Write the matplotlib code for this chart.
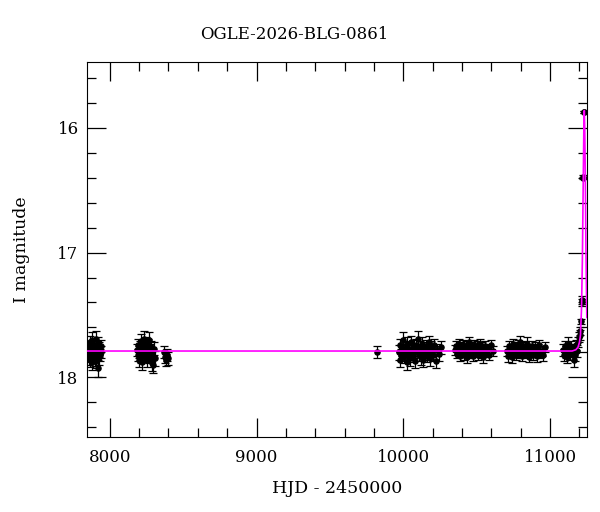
# OGLE light curve with point-lens model
import numpy as np
import matplotlib
matplotlib.use("Agg")
import matplotlib.pyplot as plt
from matplotlib.ticker import MultipleLocator

plt.rcParams['font.family'] = ['DejaVu Serif']

# season 1
t1 = [7852, 7855, 7858, 7861, 7864, 7867, 7870, 7873, 7876, 7879, 7882, 7885, 7888, 7891, 7894,
      7897, 7900, 7903, 7906, 7909, 7912, 7915, 7918, 7921, 7924, 7927, 7930, 7933, 7937, 7941]
m1 = [17.80, 17.76, 17.84, 17.79, 17.72, 17.86, 17.81, 17.77, 17.70, 17.83, 17.88, 17.75, 17.79, 17.82, 17.74,
      17.85, 17.78, 17.69, 17.81, 17.87, 17.76, 17.80, 17.93, 17.73, 17.84, 17.79, 17.77, 17.82, 17.75, 17.80]
e1 = [0.05, 0.05, 0.06, 0.05, 0.05, 0.06, 0.05, 0.05, 0.06, 0.05, 0.06, 0.05, 0.05, 0.05, 0.05,
      0.06, 0.05, 0.06, 0.05, 0.06, 0.05, 0.05, 0.07, 0.05, 0.06, 0.05, 0.05, 0.05, 0.05, 0.05]

# season 2
t2 = [8186, 8190, 8194, 8198, 8202, 8206, 8210, 8214, 8218, 8222, 8226, 8230, 8234, 8238, 8242,
      8246, 8250, 8254, 8258, 8262, 8266, 8270, 8274, 8278, 8282, 8286, 8290, 8296, 8302, 8310]
m2 = [17.78, 17.82, 17.74, 17.86, 17.80, 17.76, 17.71, 17.84, 17.79, 17.88, 17.75, 17.81, 17.69, 17.77, 17.83,
      17.73, 17.80, 17.86, 17.74, 17.79, 17.70, 17.84, 17.78, 17.82, 17.76, 17.89, 17.81, 17.90, 17.77, 17.85]
e2 = [0.05, 0.05, 0.05, 0.06, 0.05, 0.05, 0.06, 0.05, 0.05, 0.06, 0.05, 0.05, 0.06, 0.05, 0.05,
      0.05, 0.05, 0.06, 0.05, 0.05, 0.06, 0.05, 0.05, 0.05, 0.05, 0.06, 0.05, 0.07, 0.05, 0.06]

# season 3
t3 = [8368, 8375, 8382, 8390, 8398]
m3 = [17.80, 17.84, 17.86, 17.82, 17.85]
e3 = [0.05, 0.05, 0.05, 0.05, 0.05]

# lone point
t4 = [9818]
m4 = [17.80]
e4 = [0.05]

# season 5
t5 = [9968, 9974, 9980, 9986, 9992, 9998, 10004, 10010, 10016, 10022, 10028, 10034, 10040, 10046, 10052,
      10058, 10064, 10070, 10076, 10082, 10088, 10094, 10100, 10106, 10112, 10118, 10124, 10130, 10136, 10142,
      10148, 10154, 10160, 10166, 10172, 10178, 10184, 10190, 10196, 10204, 10212, 10220, 10230, 10242, 10256]
m5 = [17.80, 17.86, 17.74, 17.82, 17.78, 17.70, 17.84, 17.79, 17.76, 17.88, 17.73, 17.81, 17.77, 17.85, 17.72,
      17.79, 17.83, 17.75, 17.80, 17.87, 17.74, 17.78, 17.69, 17.82, 17.76, 17.84, 17.79, 17.73, 17.86, 17.77,
      17.81, 17.75, 17.83, 17.78, 17.72, 17.80, 17.85, 17.76, 17.79, 17.82, 17.74, 17.87, 17.78, 17.81, 17.76]
e5 = [0.06, 0.06, 0.05, 0.05, 0.05, 0.06, 0.05, 0.05, 0.05, 0.06, 0.05, 0.05, 0.05, 0.06, 0.05,
      0.05, 0.05, 0.05, 0.05, 0.06, 0.05, 0.05, 0.06, 0.05, 0.05, 0.06, 0.05, 0.05, 0.06, 0.05,
      0.05, 0.05, 0.05, 0.05, 0.05, 0.05, 0.06, 0.05, 0.05, 0.05, 0.05, 0.06, 0.05, 0.06, 0.05]

# season 6
t6 = [10352, 10358, 10364, 10370, 10376, 10382, 10388, 10394, 10400, 10406, 10412, 10418, 10424, 10430, 10436,
      10442, 10448, 10454, 10460, 10466, 10472, 10478, 10484, 10490, 10496, 10502, 10508, 10514, 10520, 10526,
      10532, 10538, 10544, 10550, 10558, 10566, 10574, 10584, 10596, 10610]
m6 = [17.78, 17.75, 17.81, 17.77, 17.73, 17.80, 17.83, 17.76, 17.79, 17.74, 17.82, 17.78, 17.75, 17.80, 17.84,
      17.77, 17.72, 17.79, 17.81, 17.76, 17.78, 17.83, 17.74, 17.80, 17.77, 17.75, 17.82, 17.79, 17.73, 17.78,
      17.81, 17.76, 17.84, 17.78, 17.75, 17.80, 17.77, 17.82, 17.74, 17.79]
e6 = [0.04, 0.04, 0.04, 0.04, 0.04, 0.04, 0.04, 0.04, 0.04, 0.04, 0.04, 0.04, 0.04, 0.04, 0.05,
      0.04, 0.04, 0.04, 0.04, 0.04, 0.04, 0.04, 0.04, 0.04, 0.04, 0.04, 0.04, 0.04, 0.04, 0.04,
      0.04, 0.04, 0.05, 0.04, 0.04, 0.04, 0.04, 0.04, 0.04, 0.04]

# season 7
t7 = [10708, 10714, 10720, 10726, 10732, 10738, 10744, 10750, 10756, 10762, 10768, 10774, 10780, 10786, 10792,
      10798, 10804, 10810, 10816, 10822, 10828, 10834, 10840, 10846, 10852, 10858, 10864, 10870, 10876, 10882,
      10888, 10894, 10900, 10908, 10916, 10924, 10932, 10942, 10952, 10964]
m7 = [17.79, 17.83, 17.75, 17.81, 17.77, 17.84, 17.73, 17.80, 17.78, 17.76, 17.82, 17.79, 17.74, 17.81, 17.77,
      17.72, 17.80, 17.83, 17.76, 17.79, 17.75, 17.81, 17.78, 17.73, 17.80, 17.84, 17.77, 17.79, 17.75, 17.82,
      17.78, 17.76, 17.80, 17.83, 17.77, 17.74, 17.81, 17.79, 17.82, 17.76]
e7 = [0.04, 0.05, 0.04, 0.04, 0.04, 0.05, 0.04, 0.04, 0.04, 0.04, 0.04, 0.04, 0.04, 0.04, 0.04,
      0.05, 0.04, 0.04, 0.04, 0.04, 0.04, 0.04, 0.04, 0.05, 0.04, 0.04, 0.04, 0.04, 0.04, 0.04,
      0.04, 0.04, 0.04, 0.05, 0.04, 0.04, 0.04, 0.04, 0.05, 0.04]

# season 8, baseline then the event
t8 = [11088, 11094, 11100, 11106, 11112, 11118, 11124, 11130, 11136, 11142, 11148, 11154, 11160, 11166, 11172,
      11178, 11184, 11190, 11196, 11201, 11205, 11208, 11214, 11216, 11226, 11227, 11231, 11232]
m8 = [17.78, 17.82, 17.75, 17.80, 17.77, 17.84, 17.73, 17.79, 17.81, 17.76, 17.80, 17.78, 17.86, 17.77, 17.82,
      17.74, 17.79, 17.72, 17.68, 17.66, 17.63, 17.55, 17.40, 17.38, 16.40, 16.39, 15.87, 15.87]
e8 = [0.05, 0.05, 0.04, 0.05, 0.04, 0.05, 0.05, 0.04, 0.05, 0.05, 0.04, 0.05, 0.06, 0.04, 0.05,
      0.04, 0.05, 0.04, 0.04, 0.04, 0.03, 0.02, 0.03, 0.03, 0.01, 0.01, 0.01, 0.01]

# model curve
model_t = [7845, 11150, 11175, 11190, 11200, 11207, 11214, 11220, 11226, 11230, 11233, 11236, 11240, 11244, 11250]
model_m = [17.79, 17.79, 17.78, 17.76, 17.72, 17.66, 17.45, 17.05, 16.40, 16.00, 15.86, 16.00, 16.40, 16.95, 17.52]

t = np.concatenate([t1, t2, t3, t4, t5, t6, t7, t8])
m = np.concatenate([m1, m2, m3, m4, m5, m6, m7, m8])
e = np.concatenate([e1, e2, e3, e4, e5, e6, e7, e8])

fig = plt.figure(figsize=(6.0, 5.12), dpi=100)
ax = fig.add_axes([0.145, 0.1465, 0.833, 0.7325])

ax.errorbar(t, m, yerr=e, fmt='o', color='black', ms=3.7, elinewidth=0.9,
            capsize=3.2, capthick=0.9, zorder=2)
ax.plot(model_t, model_m, color='#ff00ff', lw=1.2, zorder=3)

ax.set_xlim(7845, 11250)
ax.set_ylim(18.48, 15.47)

ax.xaxis.set_major_locator(MultipleLocator(1000))
ax.xaxis.set_minor_locator(MultipleLocator(200))
ax.yaxis.set_major_locator(MultipleLocator(1))
ax.yaxis.set_minor_locator(MultipleLocator(0.2))
ax.tick_params(which='both', direction='in', top=True, right=True, labelsize=12)
ax.tick_params(which='major', length=14, width=0.9)
ax.tick_params(which='minor', length=6.5, width=0.9)
ax.tick_params(axis='x', pad=9)
ax.tick_params(axis='y', pad=6)

ax.set_xlabel('HJD - 2450000', fontsize=12.5, labelpad=10)
ax.set_ylabel('I magnitude', fontsize=12.5, labelpad=19.5)
fig.text(0.49, 0.932, 'OGLE-2026-BLG-0861', ha='center', va='center', fontsize=12)

fig.savefig('out.png', dpi=100)
